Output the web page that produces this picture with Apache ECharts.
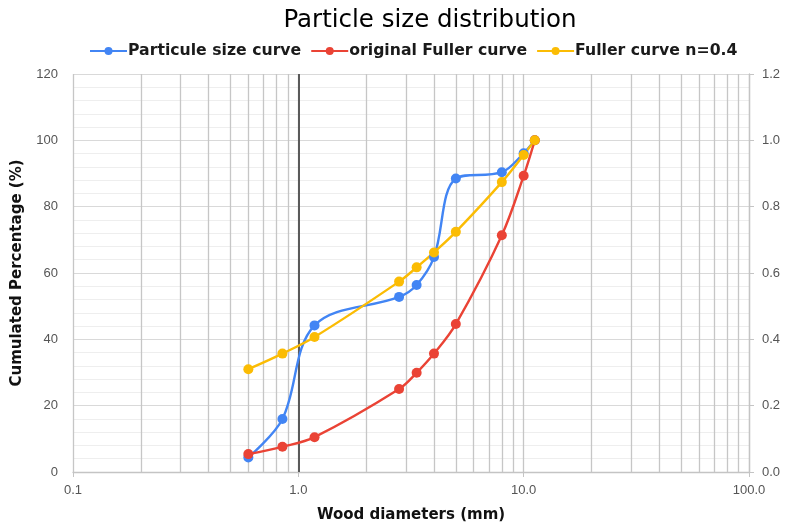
<!DOCTYPE html>
<html>
<head>
<meta charset="utf-8">
<title>Particle size distribution</title>
<script src="https://cdn.jsdelivr.net/npm/echarts@6/dist/echarts.min.js"></script>
<style>
  html, body { margin: 0; padding: 0; background: #ffffff; }
  #chart { width: 788px; height: 528px; }
</style>
</head>
<body>
<div id="chart"></div>
<script>
// Sieve openings (mm) shared by the three curves
const diameters = [0.6, 0.85, 1.18, 2.8, 3.35, 4, 5, 8, 10, 11.2];

// Cumulated passing percentage for each curve
const particleSize   = [4.4, 16.0, 44.2, 52.8, 56.4, 64.8, 88.5, 90.4, 96.1, 100];
const fullerOriginal = [5.4, 7.6, 10.5, 25.0, 29.9, 35.7, 44.6, 71.4, 89.3, 100];
const fullerN04      = [31.0, 35.7, 40.7, 57.4, 61.7, 66.2, 72.4, 87.4, 95.6, 100];

const seriesNames = ['Particule size curve', 'original Fuller curve', 'Fuller curve n=0.4'];

// Intermediate log-scale gridline positions (2..9 in every decade)
const minorDiameters = [0.2, 0.3, 0.4, 0.5, 0.6, 0.7, 0.8, 0.9,
                        2, 3, 4, 5, 6, 7, 8, 9,
                        20, 30, 40, 50, 60, 70, 80, 90];
// Position where the vertical axis crosses
const axisCrossing = 1;

const FONT = 'DejaVu Sans';
const LABEL_FONT = 'Liberation Sans';

function pairs(xs, ys) {
  return xs.map((x, i) => [x, ys[i]]);
}

function curve(name, values, color) {
  return {
    name: name,
    type: 'line',
    data: pairs(diameters, values),
    smooth: 0.35,
    symbol: 'circle',
    symbolSize: 10,
    lineStyle: { color: color, width: 2.4 },
    itemStyle: { color: color },
    z: 3
  };
}

const chart = echarts.init(document.getElementById('chart'), null, { renderer: 'canvas' });

chart.setOption({
  animation: false,
  backgroundColor: '#ffffff',
  title: {
    text: 'Particle size distribution',
    left: 425,
    top: 3,
    textAlign: 'center',
    textStyle: { fontFamily: FONT, fontSize: 24.5, fontWeight: 'normal', color: '#000000' }
  },
  legend: {
    data: seriesNames,
    left: 84,
    top: 38,
    itemWidth: 37,
    itemHeight: 10,
    itemGap: 9,
    textStyle: { fontFamily: FONT, fontSize: 15.7, fontWeight: 'bold', color: '#1a1a1a', padding: [0, 0, 0, -4] }
  },
  grid: { left: 73, right: 39, top: 74, bottom: 54 },
  xAxis: {
    type: 'log',
    logBase: 10,
    min: 0.1,
    max: 100,
    name: 'Wood diameters (mm)',
    nameLocation: 'middle',
    nameGap: 36,
    nameTextStyle: { fontFamily: FONT, fontSize: 15, fontWeight: 'bold', color: '#111111' },
    axisLine: { show: true, lineStyle: { color: '#c4c4c4', width: 1.3 } },
    axisTick: { show: true, length: 5, lineStyle: { color: '#c4c4c4' } },
    axisLabel: {
      fontFamily: LABEL_FONT, fontSize: 13, color: '#555555', margin: 12,
      formatter: v => Number(v).toFixed(1)
    },
    splitLine: { show: true, lineStyle: { color: '#c6c6c6', width: 1.3 } }
  },
  yAxis: [
    {
      type: 'value',
      min: 0,
      max: 120,
      interval: 20,
      name: 'Cumulated Percentage (%)',
      nameLocation: 'middle',
      nameGap: 48,
      nameTextStyle: { fontFamily: FONT, fontSize: 15, fontWeight: 'bold', color: '#111111' },
      axisLine: { show: false },
      axisTick: { show: false },
      axisLabel: { fontFamily: LABEL_FONT, fontSize: 13, color: '#555555', margin: 15 },
      splitLine: { show: true, lineStyle: { color: '#d9d9d9', width: 1.2 } },
      minorTick: { show: false, splitNumber: 5 },
      minorSplitLine: { show: true, lineStyle: { color: '#eeeeee', width: 1 } }
    },
    {
      type: 'value',
      min: 0,
      max: 1.2,
      interval: 0.2,
      position: 'right',
      axisLine: { show: true, lineStyle: { color: '#c4c4c4', width: 1.3 } },
      axisTick: { show: true, length: 5, lineStyle: { color: '#c4c4c4' } },
      axisLabel: {
        fontFamily: LABEL_FONT, fontSize: 13, color: '#555555', margin: 13,
        formatter: v => Number(v).toFixed(1)
      },
      splitLine: { show: false }
    }
  ],
  series: [
    {
      // log-decade gridlines and the axis crossing line
      name: 'grid-lines',
      type: 'line',
      data: [],
      silent: true,
      z: 1,
      markLine: {
        silent: true,
        z: 1,
        symbol: ['none', 'none'],
        label: { show: false },
        emphasis: { disabled: true },
        lineStyle: { type: 'solid', color: '#c6c6c6', width: 1.3 },
        data: minorDiameters.map(v => ({ xAxis: v })).concat([
          { xAxis: axisCrossing, lineStyle: { color: '#5a5a5a', width: 2, type: 'solid' } }
        ])
      }
    },
    curve(seriesNames[0], particleSize, '#4285F4'),
    curve(seriesNames[1], fullerOriginal, '#EA4335'),
    curve(seriesNames[2], fullerN04, '#FBBC04')
  ]
});
</script>
</body>
</html>
